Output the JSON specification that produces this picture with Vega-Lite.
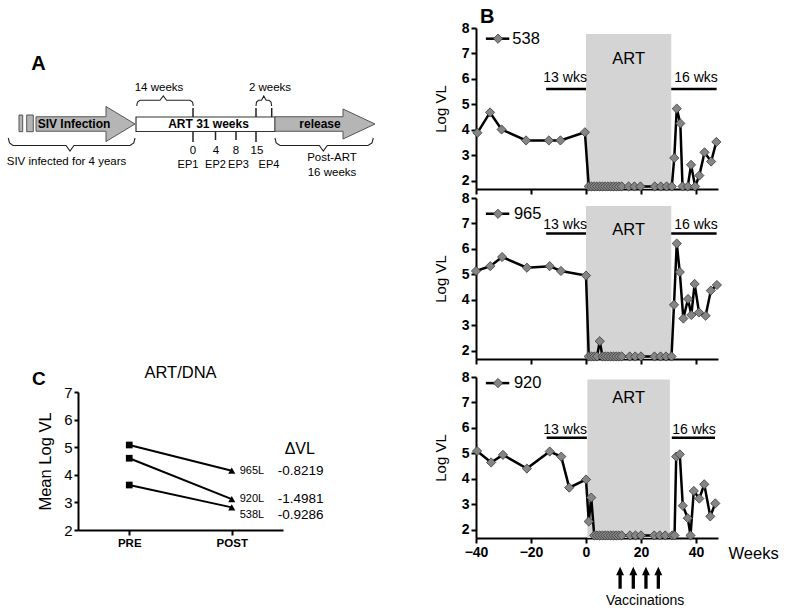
{
  "$schema": "https://vega.github.io/schema/vega-lite/v6.json",
  "padding": {"left": 0, "top": 7, "right": 0, "bottom": 0},
  "background": "white",
  "datasets": {
    "vl": [
      {"id":"538","w":-39.5,"v":3.88},{"id":"538","w":-34.9,"v":4.68},{"id":"538","w":-30.7,"v":4.01},{"id":"538","w":-21.8,"v":3.58},{"id":"538","w":-13.5,"v":3.58},{"id":"538","w":-9.3,"v":3.58},{"id":"538","w":-0.4,"v":3.9},
      {"id":"538","w":1,"v":1.77},{"id":"538","w":2,"v":1.77},{"id":"538","w":3,"v":1.77},{"id":"538","w":4,"v":1.77},{"id":"538","w":5,"v":1.77},{"id":"538","w":6,"v":1.77},{"id":"538","w":7,"v":1.77},{"id":"538","w":8,"v":1.77},{"id":"538","w":9,"v":1.77},{"id":"538","w":10,"v":1.77},{"id":"538","w":11,"v":1.77},{"id":"538","w":12,"v":1.77},{"id":"538","w":13,"v":1.77},
      {"id":"538","w":15.5,"v":1.77},{"id":"538","w":17.6,"v":1.77},{"id":"538","w":19.8,"v":1.77},{"id":"538","w":25,"v":1.77},{"id":"538","w":27.2,"v":1.77},{"id":"538","w":29.3,"v":1.77},{"id":"538","w":31.2,"v":1.77},
      {"id":"538","w":32.1,"v":2.89},{"id":"538","w":33,"v":4.83},{"id":"538","w":34.3,"v":4.25},{"id":"538","w":35.1,"v":1.77},{"id":"538","w":37,"v":1.77},{"id":"538","w":38.2,"v":2.62},{"id":"538","w":39.7,"v":1.77},{"id":"538","w":41.2,"v":2.2},{"id":"538","w":43.1,"v":3.11},{"id":"538","w":45.5,"v":2.75},{"id":"538","w":47.4,"v":3.52},

      {"id":"965","w":-40,"v":5.13},{"id":"965","w":-34.8,"v":5.32},{"id":"965","w":-30.5,"v":5.68},{"id":"965","w":-21.5,"v":5.26},{"id":"965","w":-13.2,"v":5.32},{"id":"965","w":-9.1,"v":5.13},{"id":"965","w":0,"v":4.95},
      {"id":"965","w":1,"v":1.77},{"id":"965","w":2,"v":1.77},{"id":"965","w":3,"v":1.77},{"id":"965","w":4,"v":1.77},{"id":"965","w":5,"v":2.37},{"id":"965","w":6,"v":1.77},{"id":"965","w":7,"v":1.77},{"id":"965","w":8,"v":1.77},{"id":"965","w":9,"v":1.77},{"id":"965","w":10,"v":1.77},{"id":"965","w":11,"v":1.77},{"id":"965","w":12,"v":1.77},{"id":"965","w":13,"v":1.77},
      {"id":"965","w":15.9,"v":1.77},{"id":"965","w":17.9,"v":1.77},{"id":"965","w":20,"v":1.77},{"id":"965","w":24.9,"v":1.77},{"id":"965","w":27.1,"v":1.77},{"id":"965","w":29.1,"v":1.77},{"id":"965","w":31.1,"v":1.77},
      {"id":"965","w":32,"v":3.8},{"id":"965","w":33,"v":6.21},{"id":"965","w":34.1,"v":5.09},{"id":"965","w":35.4,"v":3.26},{"id":"965","w":37.1,"v":4.03},{"id":"965","w":38.3,"v":3.4},{"id":"965","w":39.5,"v":4.62},{"id":"965","w":41.1,"v":3.5},{"id":"965","w":43.5,"v":3.37},{"id":"965","w":45.4,"v":4.36},{"id":"965","w":47.6,"v":4.58},

      {"id":"920","w":-39.6,"v":5.09},{"id":"920","w":-34.5,"v":4.64},{"id":"920","w":-30.2,"v":4.94},{"id":"920","w":-21.5,"v":4.4},{"id":"920","w":-13.2,"v":5.07},{"id":"920","w":-9,"v":4.87},{"id":"920","w":-6.1,"v":3.65},{"id":"920","w":0,"v":3.97},{"id":"920","w":1,"v":2.32},{"id":"920","w":1.9,"v":3.26},
      {"id":"920","w":3,"v":1.77},{"id":"920","w":4,"v":1.77},{"id":"920","w":5,"v":1.77},{"id":"920","w":6,"v":1.77},{"id":"920","w":7,"v":1.77},{"id":"920","w":8,"v":1.77},{"id":"920","w":9,"v":1.77},{"id":"920","w":10,"v":1.77},{"id":"920","w":11,"v":1.77},{"id":"920","w":12,"v":1.77},{"id":"920","w":13,"v":1.77},
      {"id":"920","w":16,"v":1.77},{"id":"920","w":18,"v":1.77},{"id":"920","w":20,"v":1.77},{"id":"920","w":24.8,"v":1.77},{"id":"920","w":26.8,"v":1.77},{"id":"920","w":28.8,"v":1.77},{"id":"920","w":31.3,"v":1.77},{"id":"920","w":32.2,"v":1.77},
      {"id":"920","w":32.8,"v":4.87},{"id":"920","w":34.1,"v":4.96},{"id":"920","w":35.2,"v":2.94},{"id":"920","w":37,"v":2.45},{"id":"920","w":38,"v":1.77},{"id":"920","w":39.2,"v":3.52},{"id":"920","w":41.2,"v":3.22},{"id":"920","w":43,"v":3.78},{"id":"920","w":45.2,"v":2.52},{"id":"920","w":47,"v":3.03}
    ],
    "ann": [
      {"id":"538","k":"art","w":0,"w2":31,"v":7.76,"v2":1.67},
      {"id":"538","k":"big","w":15.5,"v":6.78,"t":"ART"},
      {"id":"538","k":"bar","w":-14.5,"w2":0,"v":5.6},
      {"id":"538","k":"bar","w":31,"w2":47.5,"v":5.6},
      {"id":"538","k":"small","w":-7.6,"v":6.03,"t":"13 wks"},
      {"id":"538","k":"small","w":40,"v":6.03,"t":"16 wks"},
      {"id":"538","k":"legline","w":-36.4,"w2":-27.9,"v":7.58},
      {"id":"538","k":"legpt","w":-32,"v":7.58},
      {"id":"538","k":"big","w":-21.8,"v":7.58,"t":"538"},

      {"id":"965","k":"art","w":0,"w2":31,"v":7.69,"v2":1.67},
      {"id":"965","k":"big","w":15.5,"v":6.74,"t":"ART"},
      {"id":"965","k":"bar","w":-14.5,"w2":0,"v":6.6},
      {"id":"965","k":"bar","w":31,"w2":47.5,"v":6.6},
      {"id":"965","k":"small","w":-7.6,"v":6.93,"t":"13 wks"},
      {"id":"965","k":"small","w":40,"v":6.93,"t":"16 wks"},
      {"id":"965","k":"legline","w":-36.4,"w2":-27.9,"v":7.38},
      {"id":"965","k":"legpt","w":-32,"v":7.38},
      {"id":"965","k":"big","w":-21.2,"v":7.38,"t":"965"},

      {"id":"920","k":"art","w":0.5,"w2":30.5,"v":7.9,"v2":1.67},
      {"id":"920","k":"big","w":15.5,"v":7.17,"t":"ART"},
      {"id":"920","k":"bar","w":-14.3,"w2":0.3,"v":5.61},
      {"id":"920","k":"bar","w":31.2,"w2":46.9,"v":5.61},
      {"id":"920","k":"small","w":-7.6,"v":5.92,"t":"13 wks"},
      {"id":"920","k":"small","w":39.3,"v":5.92,"t":"16 wks"},
      {"id":"920","k":"legline","w":-36.4,"w2":-27.9,"v":7.76},
      {"id":"920","k":"legpt","w":-32,"v":7.76},
      {"id":"920","k":"big","w":-21.2,"v":7.76,"t":"920"},
      {"id":"920","k":"vac","w":12.4,"v":0.11},
      {"id":"920","k":"vac","w":17.2,"v":0.11},
      {"id":"920","k":"vac","w":21.8,"v":0.11},
      {"id":"920","k":"vac","w":26.3,"v":0.11},
      {"id":"920","k":"vactxt","w":21.5,"v":-0.82,"t":"Vaccinations"}
    ],
    "cvals": [
      {"id":"965","ph":"PRE","v":5.08},{"id":"965","ph":"POST","v":4.15},
      {"id":"920","ph":"PRE","v":4.6},{"id":"920","ph":"POST","v":3.12},
      {"id":"538","ph":"PRE","v":3.63},{"id":"538","ph":"POST","v":2.82}
    ],
    "clab": [
      {"ph":"POST","v":4.13,"t":"965L","d":"-0.8219"},
      {"ph":"POST","v":3.13,"t":"920L","d":"-1.4981"},
      {"ph":"POST","v":2.56,"t":"538L","d":"-0.9286"}
    ],
    "dtext": [
      {"k":"h","x":38.5,"y":35.5,"t":"A"},
      {"k":"b","x":74,"y":96,"t":"SIV Infection"},
      {"k":"b","x":208.5,"y":96,"t":"ART 31 weeks"},
      {"k":"b","x":320,"y":96,"t":"release"},
      {"k":"n","x":159,"y":60,"t":"14 weeks"},
      {"k":"n","x":270,"y":60,"t":"2 weeks"},
      {"k":"n","x":193,"y":123,"t":"0"},
      {"k":"n","x":216,"y":123,"t":"4"},
      {"k":"n","x":236,"y":123,"t":"8"},
      {"k":"n","x":257,"y":123,"t":"15"},
      {"k":"e","x":188,"y":137,"t":"EP1"},
      {"k":"e","x":215.5,"y":137,"t":"EP2"},
      {"k":"e","x":238.5,"y":137,"t":"EP3"},
      {"k":"e","x":269,"y":137,"t":"EP4"},
      {"k":"n","x":66.5,"y":134,"t":"SIV infected for 4 years"},
      {"k":"n","x":332,"y":130,"t":"Post-ART"},
      {"k":"n","x":332,"y":145,"t":"16 weeks"}
    ],
    "drect": [
      {"k":"g","x":19,"x2":22.7,"y":87,"y2":103.7},
      {"k":"g","x":26.7,"x2":33.3,"y":87,"y2":103.7},
      {"k":"w","x":136,"x2":275,"y":89,"y2":103.5}
    ],
    "dtick": [
      {"x":193,"y":80,"y2":89},{"x":193,"y":103.5,"y2":114},
      {"x":215.5,"y":103.5,"y2":112},{"x":236,"y":103.5,"y2":112},
      {"x":256,"y":80,"y2":89},{"x":256,"y":103.5,"y2":114},
      {"x":271.7,"y":80,"y2":89}
    ],
    "darrow": [
      {"k":"siv","x":85.5,"y":96},
      {"k":"rel","x":325,"y":96}
    ],
    "dbrace": [
      {"g":"a","o":1,"x":136.7,"y":78},{"g":"a","o":2,"x":137.5,"y":74},{"g":"a","o":3,"x":140,"y":72.3},{"g":"a","o":4,"x":160,"y":72.3},{"g":"a","o":5,"x":163.3,"y":68},{"g":"a","o":6,"x":166.6,"y":72.3},{"g":"a","o":7,"x":190,"y":72.3},{"g":"a","o":8,"x":192.5,"y":74},{"g":"a","o":9,"x":193.3,"y":78},
      {"g":"b","o":1,"x":256,"y":78},{"g":"b","o":2,"x":256.5,"y":74},{"g":"b","o":3,"x":258.5,"y":72.3},{"g":"b","o":4,"x":261.5,"y":72.3},{"g":"b","o":5,"x":263.8,"y":68},{"g":"b","o":6,"x":266.1,"y":72.3},{"g":"b","o":7,"x":269,"y":72.3},{"g":"b","o":8,"x":271,"y":74},{"g":"b","o":9,"x":271.7,"y":78},
      {"g":"c","o":1,"x":8.3,"y":110},{"g":"c","o":2,"x":9.5,"y":115},{"g":"c","o":3,"x":13,"y":117.5},{"g":"c","o":4,"x":66,"y":117.5},{"g":"c","o":5,"x":70,"y":123},{"g":"c","o":6,"x":74,"y":117.5},{"g":"c","o":7,"x":130,"y":117.5},{"g":"c","o":8,"x":133.8,"y":115},{"g":"c","o":9,"x":135,"y":110},
      {"g":"d","o":1,"x":275,"y":110},{"g":"d","o":2,"x":276.2,"y":115},{"g":"d","o":3,"x":280,"y":117.5},{"g":"d","o":4,"x":319.3,"y":117.5},{"g":"d","o":5,"x":323.3,"y":123},{"g":"d","o":6,"x":327.3,"y":117.5},{"g":"d","o":7,"x":368,"y":117.5},{"g":"d","o":8,"x":372,"y":115},{"g":"d","o":9,"x":373.3,"y":110}
    ]
  },
  "spacing": 43,
  "hconcat": [
    {
      "spacing": 185,
      "vconcat": [
        {
          "width": 390,
          "height": 150,
          "encoding": {
            "x": {"field": "x", "type": "quantitative", "scale": {"domain": [0, 390], "nice": false, "zero": false}, "axis": null},
            "y": {"field": "y", "type": "quantitative", "scale": {"domain": [0, 150], "nice": false, "zero": false, "reverse": true}, "axis": null}
          },
          "layer": [
            {"data": {"name": "dbrace"}, "mark": {"type": "line", "color": "#222", "strokeWidth": 1.1}, "encoding": {"detail": {"field": "g"}, "order": {"field": "o", "type": "quantitative"}}},
            {"data": {"name": "drect"}, "transform": [{"filter": "datum.k=='g'"}], "mark": {"type": "rect", "fill": "#b5b5b5", "stroke": "#555", "strokeWidth": 1}, "encoding": {"x2": {"field": "x2"}, "y2": {"field": "y2"}}},
            {"data": {"name": "drect"}, "transform": [{"filter": "datum.k=='w'"}], "mark": {"type": "rect", "fill": "white", "stroke": "#333", "strokeWidth": 1.2}, "encoding": {"x2": {"field": "x2"}, "y2": {"field": "y2"}}},
            {"data": {"name": "darrow"}, "transform": [{"filter": "datum.k=='siv'"}], "mark": {"type": "point", "filled": true, "fill": "#b5b5b5", "stroke": "#555", "strokeWidth": 1, "opacity": 1, "size": 9801, "shape": "M-1,-0.146 L0.414,-0.146 L0.414,-0.354 L1,0 L0.414,0.354 L0.414,0.146 L-1,0.146 Z"}},
            {"data": {"name": "darrow"}, "transform": [{"filter": "datum.k=='rel'"}], "mark": {"type": "point", "filled": true, "fill": "#b5b5b5", "stroke": "#555", "strokeWidth": 1, "opacity": 1, "size": 10000, "shape": "M-1,-0.145 L0.36,-0.145 L0.36,-0.3 L1,0 L0.36,0.3 L0.36,0.145 L-1,0.145 Z"}},
            {"data": {"name": "dtick"}, "mark": {"type": "rule", "color": "#222", "strokeWidth": 1.5}, "encoding": {"y2": {"field": "y2"}}},
            {"data": {"name": "dtext"}, "transform": [{"filter": "datum.k=='h'"}], "mark": {"type": "text", "fontSize": 20, "fontWeight": "bold", "baseline": "middle", "align": "center"}, "encoding": {"text": {"field": "t"}}},
            {"data": {"name": "dtext"}, "transform": [{"filter": "datum.k=='b'"}], "mark": {"type": "text", "fontSize": 12, "fontWeight": "bold", "baseline": "middle", "align": "center"}, "encoding": {"text": {"field": "t"}}},
            {"data": {"name": "dtext"}, "transform": [{"filter": "datum.k=='n'"}], "mark": {"type": "text", "fontSize": 11.5, "baseline": "middle", "align": "center"}, "encoding": {"text": {"field": "t"}}},
            {"data": {"name": "dtext"}, "transform": [{"filter": "datum.k=='e'"}], "mark": {"type": "text", "fontSize": 11, "baseline": "middle", "align": "center"}, "encoding": {"text": {"field": "t"}}}
          ]
        },
        {
          "bounds": "flush",
          "spacing": 20,
          "hconcat": [
            {
              "width": 58,
              "height": 138,
              "title": {"text": "C", "anchor": "start", "frame": "group", "dx": 32, "offset": 3, "fontSize": 19, "fontWeight": "bold"},
              "data": {"values": [{}]},
              "mark": {"type": "point", "opacity": 0},
              "encoding": {}
            },
            {
              "width": 205,
              "height": 138,
              "title": {"text": "ART/DNA", "anchor": "middle", "frame": "group", "offset": 4, "fontSize": 16.5, "fontWeight": "normal"},
              "encoding": {
                "x": {"field": "ph", "type": "nominal", "sort": ["PRE", "POST"], "scale": {"type": "point", "domain": ["PRE", "POST"], "padding": 0.5},
                      "axis": {"title": null, "labelAngle": 0, "labelFontWeight": "bold", "labelFontSize": 11.5, "labelPadding": 2, "tickSize": 5}},
                "y": {"field": "v", "type": "quantitative", "scale": {"domain": [2, 7], "nice": false, "zero": false},
                      "axis": {"values": [2, 3, 4, 5, 6, 7], "title": "Mean Log VL", "labelFontSize": 15, "labelFlush": false, "tickSize": 4, "labelPadding": 2, "titleFontSize": 16.5, "titlePadding": 10}}
              },
              "layer": [
                {"data": {"name": "cvals"}, "mark": {"type": "line", "color": "black", "strokeWidth": 2}, "encoding": {"detail": {"field": "id"}}},
                {"data": {"name": "cvals"}, "transform": [{"filter": "datum.ph=='PRE'"}], "mark": {"type": "point", "shape": "square", "filled": true, "color": "black", "opacity": 1, "size": 45}},
                {"data": {"name": "cvals"}, "transform": [{"filter": "datum.ph=='POST'"}], "mark": {"type": "point", "shape": "triangle-up", "filled": true, "color": "black", "opacity": 1, "size": 50}},
                {"data": {"name": "clab"}, "mark": {"type": "text", "align": "left", "baseline": "middle", "dx": 8, "fontSize": 11}, "encoding": {"text": {"field": "t"}}},
                {"data": {"name": "clab"}, "mark": {"type": "text", "align": "left", "baseline": "middle", "dx": 46, "fontSize": 13.5}, "encoding": {"text": {"field": "d"}}},
                {"data": {"values": [{"ph": "POST", "v": 4.93, "t": "ΔVL"}]}, "mark": {"type": "text", "align": "center", "baseline": "middle", "dx": 68, "fontSize": 16}, "encoding": {"text": {"field": "t"}}}
              ]
            }
          ]
        }
      ]
    },
    {
      "spacing": 5,
      "vconcat": [
        {
          "bounds": "flush",
          "spacing": 9,
          "vconcat": [
            {
              "width": 242,
              "height": 161,
              "title": {"text": "B", "anchor": "start", "frame": "group", "dx": 4, "offset": -6, "fontSize": 20, "fontWeight": "bold"},
              "encoding": {
                "x": {"field": "w", "type": "quantitative", "scale": {"domain": [-40, 48], "nice": false, "zero": false}, "axis": {"values": [-40, -20, 0, 20, 40], "labels": false, "title": null}},
                "y": {"field": "v", "type": "quantitative", "scale": {"domain": [1.67, 8], "nice": false, "zero": false}, "axis": {"values": [2, 3, 4, 5, 6, 7, 8], "title": "Log VL", "labelFontWeight": "bold", "labelFontSize": 14, "labelFlush": false, "labelPadding": 2, "titleFontSize": 15, "titlePadding": 13}}
              },
              "layer": [
                {"data": {"name": "ann"}, "transform": [{"filter": "datum.id=='538' && datum.k=='art'"}], "mark": {"type": "rect", "color": "#d4d4d4"}, "encoding": {"x2": {"field": "w2"}, "y2": {"field": "v2"}}},
                {"data": {"name": "ann"}, "transform": [{"filter": "datum.id=='538' && datum.k=='bar'"}], "mark": {"type": "rule", "color": "black", "strokeWidth": 2.5}, "encoding": {"x2": {"field": "w2"}}},
                {"data": {"name": "ann"}, "transform": [{"filter": "datum.id=='538' && datum.k=='legline'"}], "mark": {"type": "rule", "color": "black", "strokeWidth": 2.5}, "encoding": {"x2": {"field": "w2"}}},
                {"data": {"name": "ann"}, "transform": [{"filter": "datum.id=='538' && datum.k=='big'"}], "mark": {"type": "text", "fontSize": 16.5, "baseline": "middle", "align": "center"}, "encoding": {"text": {"field": "t"}}},
                {"data": {"name": "ann"}, "transform": [{"filter": "datum.id=='538' && datum.k=='small'"}], "mark": {"type": "text", "fontSize": 14, "baseline": "middle", "align": "center"}, "encoding": {"text": {"field": "t"}}},
                {"data": {"name": "vl"}, "transform": [{"filter": "datum.id=='538'"}], "mark": {"type": "line", "color": "black", "strokeWidth": 2.5}},
                {"data": {"name": "vl"}, "transform": [{"filter": "datum.id=='538'"}], "mark": {"type": "point", "shape": "diamond", "filled": true, "fill": "#858585", "stroke": "#3a3a3a", "strokeWidth": 0.8, "opacity": 1, "size": 85}},
                {"data": {"name": "ann"}, "transform": [{"filter": "datum.id=='538' && datum.k=='legpt'"}], "mark": {"type": "point", "shape": "diamond", "filled": true, "fill": "#858585", "stroke": "#3a3a3a", "strokeWidth": 0.8, "opacity": 1, "size": 85}}
              ]
            },
            {
              "width": 242,
              "height": 161,
              "encoding": {
                "x": {"field": "w", "type": "quantitative", "scale": {"domain": [-40, 48], "nice": false, "zero": false}, "axis": {"values": [-40, -20, 0, 20, 40], "labels": false, "title": null}},
                "y": {"field": "v", "type": "quantitative", "scale": {"domain": [1.67, 8], "nice": false, "zero": false}, "axis": {"values": [2, 3, 4, 5, 6, 7, 8], "title": "Log VL", "labelFontWeight": "bold", "labelFontSize": 14, "labelFlush": false, "labelPadding": 2, "titleFontSize": 15, "titlePadding": 13}}
              },
              "layer": [
                {"data": {"name": "ann"}, "transform": [{"filter": "datum.id=='965' && datum.k=='art'"}], "mark": {"type": "rect", "color": "#d4d4d4"}, "encoding": {"x2": {"field": "w2"}, "y2": {"field": "v2"}}},
                {"data": {"name": "ann"}, "transform": [{"filter": "datum.id=='965' && datum.k=='bar'"}], "mark": {"type": "rule", "color": "black", "strokeWidth": 2.5}, "encoding": {"x2": {"field": "w2"}}},
                {"data": {"name": "ann"}, "transform": [{"filter": "datum.id=='965' && datum.k=='legline'"}], "mark": {"type": "rule", "color": "black", "strokeWidth": 2.5}, "encoding": {"x2": {"field": "w2"}}},
                {"data": {"name": "ann"}, "transform": [{"filter": "datum.id=='965' && datum.k=='big'"}], "mark": {"type": "text", "fontSize": 16.5, "baseline": "middle", "align": "center"}, "encoding": {"text": {"field": "t"}}},
                {"data": {"name": "ann"}, "transform": [{"filter": "datum.id=='965' && datum.k=='small'"}], "mark": {"type": "text", "fontSize": 14, "baseline": "middle", "align": "center"}, "encoding": {"text": {"field": "t"}}},
                {"data": {"name": "vl"}, "transform": [{"filter": "datum.id=='965'"}], "mark": {"type": "line", "color": "black", "strokeWidth": 2.5}},
                {"data": {"name": "vl"}, "transform": [{"filter": "datum.id=='965'"}], "mark": {"type": "point", "shape": "diamond", "filled": true, "fill": "#858585", "stroke": "#3a3a3a", "strokeWidth": 0.8, "opacity": 1, "size": 85}},
                {"data": {"name": "ann"}, "transform": [{"filter": "datum.id=='965' && datum.k=='legpt'"}], "mark": {"type": "point", "shape": "diamond", "filled": true, "fill": "#858585", "stroke": "#3a3a3a", "strokeWidth": 0.8, "opacity": 1, "size": 85}}
              ]
            }
          ]
        },
        {
          "width": 242,
          "height": 161,
          "encoding": {
            "x": {"field": "w", "type": "quantitative", "scale": {"domain": [-40, 48], "nice": false, "zero": false}, "axis": {"values": [-40, -20, 0, 20, 40], "labelFontWeight": "bold", "labelFontSize": 14, "labelPadding": 2, "labelFlush": false, "title": "Weeks", "titleX": 252, "titleY": 15, "titleAlign": "left", "titleBaseline": "middle", "titleFontSize": 16.5}},
            "y": {"field": "v", "type": "quantitative", "scale": {"domain": [1.67, 8], "nice": false, "zero": false}, "axis": {"values": [2, 3, 4, 5, 6, 7, 8], "title": "Log VL", "labelFontWeight": "bold", "labelFontSize": 14, "labelFlush": false, "labelPadding": 2, "titleFontSize": 15, "titlePadding": 13}}
          },
          "layer": [
            {"data": {"name": "ann"}, "transform": [{"filter": "datum.id=='920' && datum.k=='art'"}], "mark": {"type": "rect", "color": "#d4d4d4"}, "encoding": {"x2": {"field": "w2"}, "y2": {"field": "v2"}}},
            {"data": {"name": "ann"}, "transform": [{"filter": "datum.id=='920' && datum.k=='bar'"}], "mark": {"type": "rule", "color": "black", "strokeWidth": 2.5}, "encoding": {"x2": {"field": "w2"}}},
            {"data": {"name": "ann"}, "transform": [{"filter": "datum.id=='920' && datum.k=='legline'"}], "mark": {"type": "rule", "color": "black", "strokeWidth": 2.5}, "encoding": {"x2": {"field": "w2"}}},
            {"data": {"name": "ann"}, "transform": [{"filter": "datum.id=='920' && datum.k=='big'"}], "mark": {"type": "text", "fontSize": 16.5, "baseline": "middle", "align": "center"}, "encoding": {"text": {"field": "t"}}},
            {"data": {"name": "ann"}, "transform": [{"filter": "datum.id=='920' && datum.k=='small'"}], "mark": {"type": "text", "fontSize": 14, "baseline": "middle", "align": "center"}, "encoding": {"text": {"field": "t"}}},
            {"data": {"name": "ann"}, "transform": [{"filter": "datum.id=='920' && datum.k=='vactxt'"}], "mark": {"type": "text", "fontSize": 14, "baseline": "middle", "align": "center"}, "encoding": {"text": {"field": "t"}}},
            {"data": {"name": "ann"}, "transform": [{"filter": "datum.id=='920' && datum.k=='vac'"}], "mark": {"type": "point", "filled": true, "color": "black", "opacity": 1, "size": 484, "shape": "M0,-1 L0.36,-0.22 L0.15,-0.22 L0.15,1 L-0.15,1 L-0.15,-0.22 L-0.36,-0.22 Z"}},
            {"data": {"name": "vl"}, "transform": [{"filter": "datum.id=='920'"}], "mark": {"type": "line", "color": "black", "strokeWidth": 2.5}},
            {"data": {"name": "vl"}, "transform": [{"filter": "datum.id=='920'"}], "mark": {"type": "point", "shape": "diamond", "filled": true, "fill": "#858585", "stroke": "#3a3a3a", "strokeWidth": 0.8, "opacity": 1, "size": 85}},
            {"data": {"name": "ann"}, "transform": [{"filter": "datum.id=='920' && datum.k=='legpt'"}], "mark": {"type": "point", "shape": "diamond", "filled": true, "fill": "#858585", "stroke": "#3a3a3a", "strokeWidth": 0.8, "opacity": 1, "size": 85}}
          ]
        }
      ]
    }
  ],
  "config": {
    "view": {"stroke": null},
    "font": "Liberation Sans",
    "text": {"font": "Liberation Sans", "color": "black"},
    "title": {"font": "Liberation Sans", "color": "black"},
    "axis": {
      "domainColor": "black", "domainWidth": 2, "tickColor": "black", "tickWidth": 2, "tickSize": 5,
      "labelColor": "black", "titleColor": "black", "labelFont": "Liberation Sans", "titleFont": "Liberation Sans",
      "grid": false, "titleFontWeight": "normal"
    }
  }
}
